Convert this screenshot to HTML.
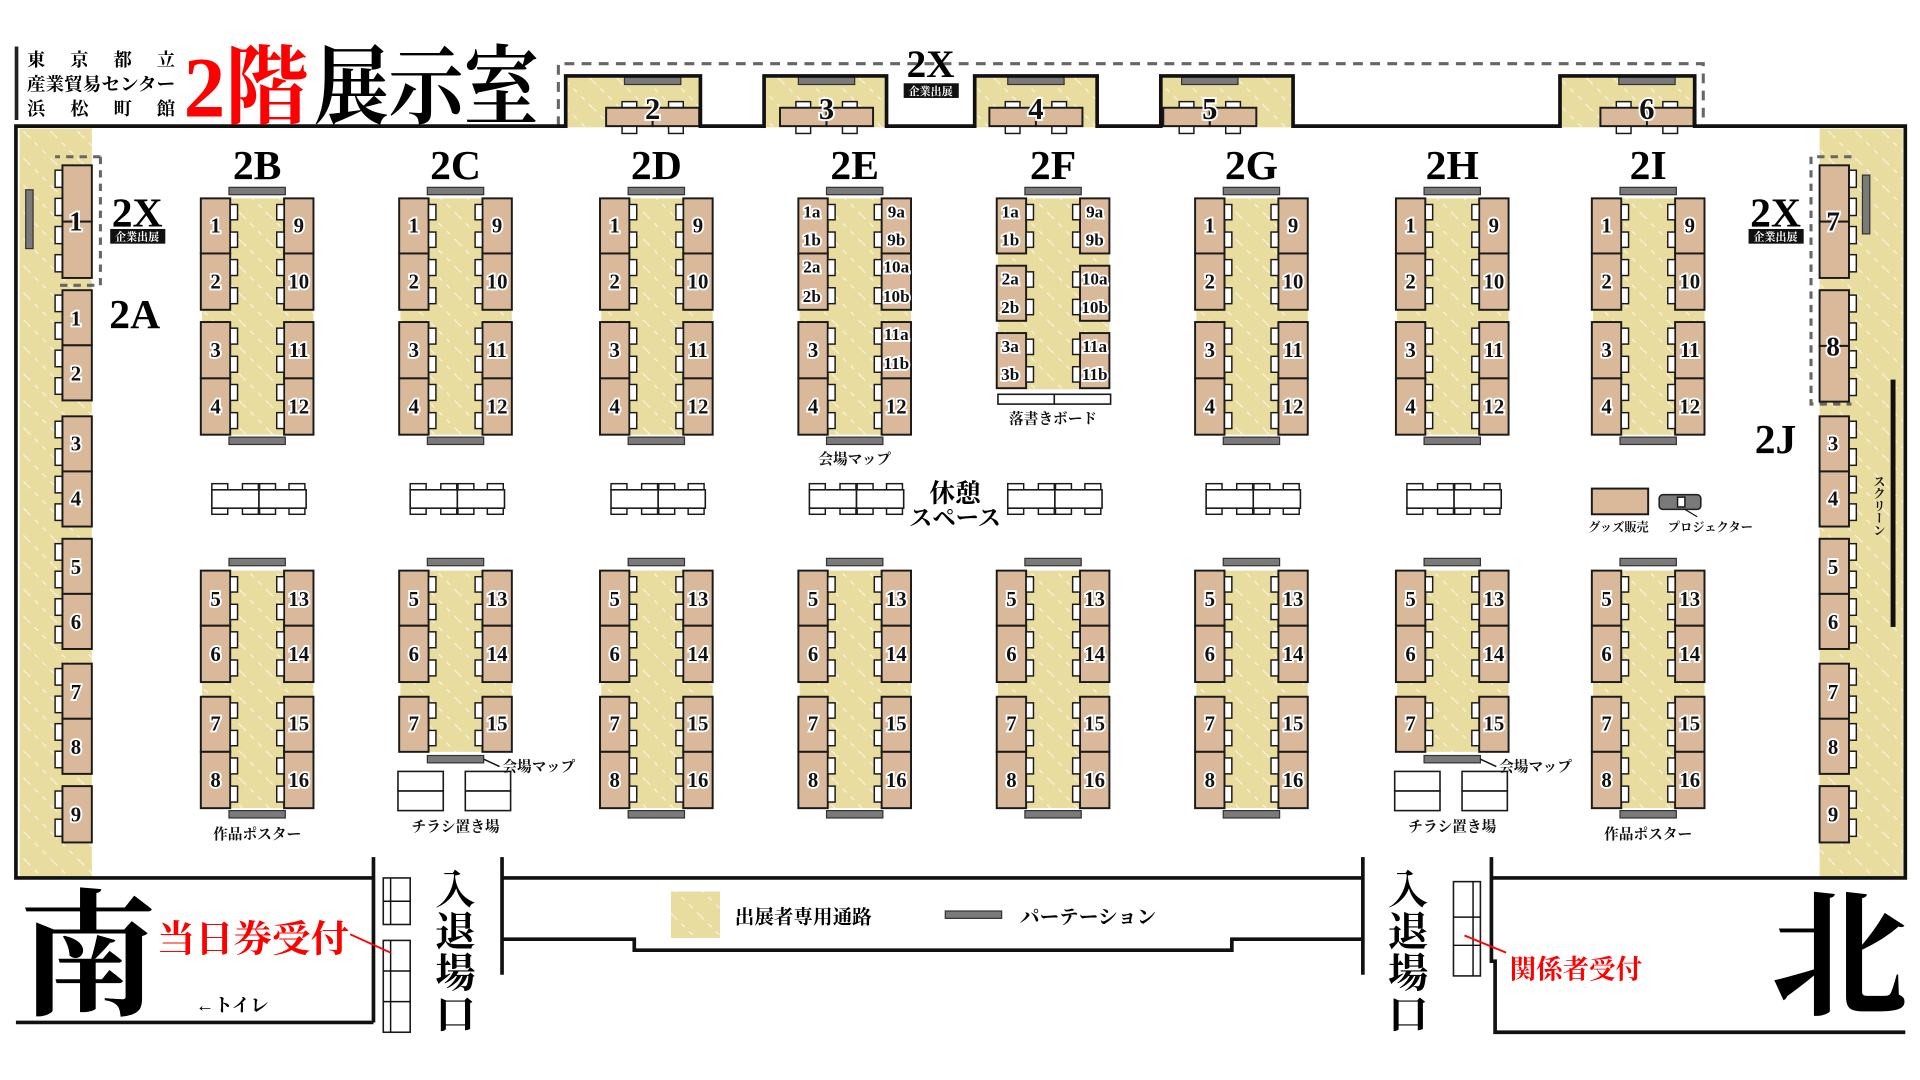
<!DOCTYPE html>
<html><head><meta charset="utf-8">
<style>
html,body{margin:0;padding:0;background:#fff;}
svg{display:block;}
text{font-family:"Liberation Serif","Noto Serif CJK JP",serif;font-weight:bold;}
.n{font-size:17px;text-anchor:middle;dominant-baseline:central;stroke:#fff;stroke-width:3;paint-order:stroke;fill:#111;}
.ns{font-size:14px;}
.big{font-size:34px;text-anchor:middle;fill:#000;}
.sm{font-size:12px;text-anchor:middle;fill:#111;}
.tag{font-size:9px;text-anchor:middle;fill:#fff;}
</style></head><body>
<svg id="s" width="1920" height="1080" viewBox="0 0 1568 882" preserveAspectRatio="none" xmlns="http://www.w3.org/2000/svg">
<defs>
<pattern id="h" patternUnits="userSpaceOnUse" width="22" height="22">
<rect width="22" height="22" fill="#e9dc9f"/>
<line x1="0" y1="0" x2="22" y2="22" stroke="#fff" stroke-opacity="0.7" stroke-width="1" stroke-dasharray="4 5"/>
</pattern>
</defs>
<g id="shapes"></g>

<!-- title -->
<rect x="12" y="38" width="3" height="60" fill="#222"/>
<text x="22" y="54" font-size="15" textLength="121" lengthAdjust="spacing">東京都立</text>
<text x="22" y="74" font-size="15" textLength="121" lengthAdjust="spacingAndGlyphs">産業貿易センター</text>
<text x="22" y="94" font-size="15" textLength="121" lengthAdjust="spacing">浜松町館</text>
<text x="150" y="95" font-size="70" fill="#f00" textLength="102" lengthAdjust="spacingAndGlyphs">2階</text>
<text x="256" y="95" font-size="70" fill="#000" textLength="184" lengthAdjust="spacingAndGlyphs">展示室</text>

<!-- 2X top -->
<text class="big" x="760" y="63" style="font-size:32px">2X</text>
<rect x="738" y="68" width="45" height="12" fill="#111"/>
<text class="tag" x="760" y="77.5">企業出展</text>
<text class="n" x="533" y="89" style="font-size:25px">2</text>
<text class="n" x="675" y="89" style="font-size:25px">3</text>
<text class="n" x="846" y="89" style="font-size:25px">4</text>
<text class="n" x="988" y="89" style="font-size:25px">5</text>
<text class="n" x="1345" y="89" style="font-size:25px">6</text>

<!-- side labels -->
<text class="big" x="112" y="185">2X</text>
<rect x="90" y="187" width="45" height="12" fill="#111"/>
<text class="tag" x="112" y="196.5">企業出展</text>
<text class="big" x="110" y="268">2A</text>
<text class="big" x="1450" y="185">2X</text>
<rect x="1428" y="187" width="45" height="12" fill="#111"/>
<text class="tag" x="1450" y="196.5">企業出展</text>
<text class="big" x="1450" y="370">2J</text>

<!-- 2A labels -->
<g>
<text class="n" x="62" y="181" style="font-size:22px">1</text>
<text class="n" x="62" y="260">1</text><text class="n" x="62" y="305">2</text>
<text class="n" x="62" y="362">3</text><text class="n" x="62" y="407">4</text>
<text class="n" x="62" y="463">5</text><text class="n" x="62" y="508">6</text>
<text class="n" x="62" y="565">7</text><text class="n" x="62" y="610">8</text>
<text class="n" x="62" y="665">9</text>
</g>
<!-- 2J labels -->
<g>
<text class="n" x="1497" y="181" style="font-size:22px">7</text>
<text class="n" x="1497" y="283" style="font-size:22px">8</text>
<text class="n" x="1497" y="362">3</text><text class="n" x="1497" y="407">4</text>
<text class="n" x="1497" y="463">5</text><text class="n" x="1497" y="508">6</text>
<text class="n" x="1497" y="565">7</text><text class="n" x="1497" y="610">8</text>
<text class="n" x="1497" y="665">9</text>
</g>
<text x="1534" y="388" font-size="10" writing-mode="tb" fill="#111">スクリーン</text>

<!-- column labels -->
<text class="big" x="210" y="146">2B</text>
<text class="big" x="372" y="146">2C</text>
<text class="big" x="536" y="146">2D</text>
<text class="big" x="698" y="146">2E</text>
<text class="big" x="860" y="146">2F</text>
<text class="big" x="1022" y="146">2G</text>
<text class="big" x="1186" y="146">2H</text>
<text class="big" x="1346" y="146">2I</text>

<g transform="translate(210,0)"><text class="n" x="-34" y="184">1</text><text class="n" x="-34" y="230">2</text><text class="n" x="-34" y="286">3</text><text class="n" x="-34" y="332">4</text><text class="n" x="34" y="184">9</text><text class="n" x="34" y="230">10</text><text class="n" x="34" y="286">11</text><text class="n" x="34" y="332">12</text>
<text class="n" x="-34" y="489">5</text><text class="n" x="-34" y="534">6</text><text class="n" x="-34" y="591">7</text><text class="n" x="-34" y="637">8</text><text class="n" x="34" y="489">13</text><text class="n" x="34" y="534">14</text><text class="n" x="34" y="591">15</text><text class="n" x="34" y="637">16</text></g>
<g transform="translate(372,0)"><text class="n" x="-34" y="184">1</text><text class="n" x="-34" y="230">2</text><text class="n" x="-34" y="286">3</text><text class="n" x="-34" y="332">4</text><text class="n" x="34" y="184">9</text><text class="n" x="34" y="230">10</text><text class="n" x="34" y="286">11</text><text class="n" x="34" y="332">12</text>
<text class="n" x="-34" y="489">5</text><text class="n" x="-34" y="534">6</text><text class="n" x="-34" y="591">7</text><text class="n" x="34" y="489">13</text><text class="n" x="34" y="534">14</text><text class="n" x="34" y="591">15</text></g>
<g transform="translate(536,0)"><text class="n" x="-34" y="184">1</text><text class="n" x="-34" y="230">2</text><text class="n" x="-34" y="286">3</text><text class="n" x="-34" y="332">4</text><text class="n" x="34" y="184">9</text><text class="n" x="34" y="230">10</text><text class="n" x="34" y="286">11</text><text class="n" x="34" y="332">12</text>
<text class="n" x="-34" y="489">5</text><text class="n" x="-34" y="534">6</text><text class="n" x="-34" y="591">7</text><text class="n" x="-34" y="637">8</text><text class="n" x="34" y="489">13</text><text class="n" x="34" y="534">14</text><text class="n" x="34" y="591">15</text><text class="n" x="34" y="637">16</text></g>
<g transform="translate(698,0)"><text class="n ns" x="-35" y="173">1a</text><text class="n ns" x="-35" y="196">1b</text><text class="n ns" x="-35" y="218">2a</text><text class="n ns" x="-35" y="242">2b</text><text class="n" x="-34" y="286">3</text><text class="n" x="-34" y="332">4</text><text class="n ns" x="34" y="173">9a</text><text class="n ns" x="34" y="196">9b</text><text class="n ns" x="34" y="218">10a</text><text class="n ns" x="34" y="242">10b</text><text class="n ns" x="34" y="273">11a</text><text class="n ns" x="34" y="297">11b</text><text class="n" x="34" y="332">12</text>
<text class="n" x="-34" y="489">5</text><text class="n" x="-34" y="534">6</text><text class="n" x="-34" y="591">7</text><text class="n" x="-34" y="637">8</text><text class="n" x="34" y="489">13</text><text class="n" x="34" y="534">14</text><text class="n" x="34" y="591">15</text><text class="n" x="34" y="637">16</text></g>
<g transform="translate(860,0)"><text class="n ns" x="-35" y="173">1a</text><text class="n ns" x="-35" y="196">1b</text><text class="n ns" x="-35" y="228">2a</text><text class="n ns" x="-35" y="251">2b</text><text class="n ns" x="-35" y="283">3a</text><text class="n ns" x="-35" y="306">3b</text><text class="n ns" x="34" y="173">9a</text><text class="n ns" x="34" y="196">9b</text><text class="n ns" x="34" y="228">10a</text><text class="n ns" x="34" y="251">10b</text><text class="n ns" x="34" y="283">11a</text><text class="n ns" x="34" y="306">11b</text>
<text class="n" x="-34" y="489">5</text><text class="n" x="-34" y="534">6</text><text class="n" x="-34" y="591">7</text><text class="n" x="-34" y="637">8</text><text class="n" x="34" y="489">13</text><text class="n" x="34" y="534">14</text><text class="n" x="34" y="591">15</text><text class="n" x="34" y="637">16</text></g>
<g transform="translate(1022,0)"><text class="n" x="-34" y="184">1</text><text class="n" x="-34" y="230">2</text><text class="n" x="-34" y="286">3</text><text class="n" x="-34" y="332">4</text><text class="n" x="34" y="184">9</text><text class="n" x="34" y="230">10</text><text class="n" x="34" y="286">11</text><text class="n" x="34" y="332">12</text>
<text class="n" x="-34" y="489">5</text><text class="n" x="-34" y="534">6</text><text class="n" x="-34" y="591">7</text><text class="n" x="-34" y="637">8</text><text class="n" x="34" y="489">13</text><text class="n" x="34" y="534">14</text><text class="n" x="34" y="591">15</text><text class="n" x="34" y="637">16</text></g>
<g transform="translate(1186,0)"><text class="n" x="-34" y="184">1</text><text class="n" x="-34" y="230">2</text><text class="n" x="-34" y="286">3</text><text class="n" x="-34" y="332">4</text><text class="n" x="34" y="184">9</text><text class="n" x="34" y="230">10</text><text class="n" x="34" y="286">11</text><text class="n" x="34" y="332">12</text>
<text class="n" x="-34" y="489">5</text><text class="n" x="-34" y="534">6</text><text class="n" x="-34" y="591">7</text><text class="n" x="34" y="489">13</text><text class="n" x="34" y="534">14</text><text class="n" x="34" y="591">15</text></g>
<g transform="translate(1346,0)"><text class="n" x="-34" y="184">1</text><text class="n" x="-34" y="230">2</text><text class="n" x="-34" y="286">3</text><text class="n" x="-34" y="332">4</text><text class="n" x="34" y="184">9</text><text class="n" x="34" y="230">10</text><text class="n" x="34" y="286">11</text><text class="n" x="34" y="332">12</text>
<text class="n" x="-34" y="489">5</text><text class="n" x="-34" y="534">6</text><text class="n" x="-34" y="591">7</text><text class="n" x="-34" y="637">8</text><text class="n" x="34" y="489">13</text><text class="n" x="34" y="534">14</text><text class="n" x="34" y="591">15</text><text class="n" x="34" y="637">16</text></g>

<!-- small labels -->
<text class="sm" x="698" y="379">会場マップ</text>
<text class="sm" x="860" y="346">落書きボード</text>
<text class="sm" x="210" y="685">作品ポスター</text>
<text class="sm" x="1346" y="685">作品ポスター</text>
<text class="sm" x="372" y="679">チラシ置き場</text>
<text class="sm" x="1186" y="679">チラシ置き場</text>
<text class="sm" x="440" y="630">会場マップ</text>
<text class="sm" x="1254" y="630">会場マップ</text>
<text x="1297" y="434" font-size="10" fill="#111">グッズ販売</text>
<text x="1362" y="434" font-size="10" fill="#111">プロジェクター</text>
<text x="780" y="410" font-size="21" text-anchor="middle">休憩</text>
<text x="780" y="429" font-size="19" text-anchor="middle">スペース</text>

<!-- legend -->
<text x="600" y="754" font-size="16">出展者専用通路</text>
<text x="833" y="754" font-size="16">パーテーション</text>

<!-- bottom -->
<text x="16" y="820" font-size="112">南</text>
<text x="1446" y="820" font-size="112">北</text>
<text x="128" y="777" font-size="30" fill="#f00" textLength="157" lengthAdjust="spacingAndGlyphs">当日券受付</text>
<text x="1233" y="799" font-size="22" fill="#f00" textLength="108" lengthAdjust="spacingAndGlyphs">関係者受付</text>
<text x="160" y="826" font-size="15">←トイレ</text>
<g font-size="33" text-anchor="middle">
<text x="372" y="738">入</text><text x="372" y="772">退</text><text x="372" y="806">場</text><text x="372" y="840">口</text>
<text x="1150" y="738">入</text><text x="1150" y="772">退</text><text x="1150" y="806">場</text><text x="1150" y="840">口</text>
</g>
</svg>
<script>
(function(){
var NS="http://www.w3.org/2000/svg",g=document.getElementById("shapes");
function el(t,a){var e=document.createElementNS(NS,t);for(var k in a)e.setAttribute(k,a[k]);g.appendChild(e);return e;}
function Y(x,y,w,h){el("rect",{x:x,y:y,width:w,height:h,fill:"url(#h)"});}
function T(x,y,w,h){el("rect",{x:x,y:y,width:w,height:h,fill:"#d9b999",stroke:"#1a1a1a","stroke-width":1.6});}
function C(x,y,w,h){el("rect",{x:x,y:y,width:w,height:h,fill:"#fff",stroke:"#1a1a1a","stroke-width":1.2});}
function B(x,y,w,h){el("rect",{x:x,y:y,width:w,height:h,fill:"#7a7a7a",stroke:"#333","stroke-width":1});}
function W(x,y,w,h){el("rect",{x:x,y:y,width:w,height:h,fill:"#fff",stroke:"#1a1a1a","stroke-width":1.3});}
function L(d,w,c,dash){var a={d:d,fill:"none",stroke:c||"#111","stroke-width":w||3};if(dash)a["stroke-dasharray"]=dash;el("path",a);}

Y(16,105,59,612);Y(1486,105,68,612);
var bumps=[[462,572,533],[624,724,675],[796,896,846],[948,1056,988],[1274,1384,1345]];
bumps.forEach(function(b){Y(b[0],62,b[1]-b[0],42);});
L("M456,103 L456,52 L1391,52 L1391,103",2.5,"#666","8 6");
L("M82,128 L45,128 M82,128 L82,233 L45,233",2.5,"#666","6 5");
L("M1512,128 L1479,128 L1479,330 L1512,330",2.5,"#666","6 5");

bumps.forEach(function(b){var c=b[2];
 B(c-23,63,46,6);
 C(c-25,83,12,6);C(c+13,83,12,6);C(c-25,103,12,6);C(c+13,103,12,6);
 T(c-38,88,38,15);T(c,88,38,15);
});

B(21,155,6,48);B(1521,143,6,48);
el("rect",{x:1544,y:310,width:4,height:202,fill:"#111"});

function side(tx,cx,rows){rows.forEach(function(r){var h=r[1]-r[0];
 var k=h>60?4:2;
 for(var i=0;i<k;i++){C(cx,r[0]+4+i*(h/k),6,h/k-9);}
 if(h>60){T(tx,r[0],24,h/2);T(tx,r[0]+h/2,24,h/2);}else T(tx,r[0],24,h);
});}
side(51,45,[[135,227],[237,282],[282,327],[340,385],[385,430],[440,485],[485,530],[542,587],[587,632],[642,688]]);
side(1486,1510,[[135,227],[237,328],[340,385],[385,430],[440,485],[485,530],[542,587],[587,632],[642,688]]);

function chairs(x,top,h){for(var i=0;i<2;i++)C(x,top+5+i*(h/2),6,h/2-10);}
function block(c,yt,yb,L1,R1){Y(c-45,yt,91,yb-yt);
 L1.forEach(function(r){T(c-46,r[0],24,r[1]-r[0]);chairs(c-22,r[0],r[1]-r[0]);});
 R1.forEach(function(r){T(c+22,r[0],24,r[1]-r[0]);chairs(c+16,r[0],r[1]-r[0]);});}
var up=[[162,207],[207,253],[263,309],[309,355]];
var lo=[[466,511],[511,557],[569,614],[614,660]];
var lo3=[[466,511],[511,557],[569,614]];
var cols=[210,372,536,698,860,1022,1186,1346];
cols.forEach(function(c,i){
 B(c-23,153,46,6);
 if(i==4){var f=[[162,207],[217,262],[272,317]];block(c,162,318,f,f);
   W(c-45,322,46,8);W(c+1,322,46,8);}
 else{block(c,162,355,up,up);B(c-23,357,46,6);}
 B(c-23,456,46,6);
 if(i==1||i==6){block(c,466,614,lo3,lo3);B(c-23,617,46,6);
   L("M"+(c+23)+",620 L"+(c+36)+",626",1.2);
   W(c-47,630,37,16);W(c-47,646,37,16);W(c+8,630,37,16);W(c+8,646,37,16);}
 else{block(c,466,660,lo,lo);B(c-23,662,46,6);}
 if(i<7){var x0=c-37;
  [0,25,39,63].forEach(function(d){C(x0+d,395,13,5);C(x0+d,415,13,5);});
  W(x0,400,38.5,15);W(x0+38.5,400,38.5,15);}
});
T(1300,399,46,21);
el("rect",{x:1355,y:404,width:34,height:12,rx:3,fill:"#7a7a7a",stroke:"#222","stroke-width":1.3});
C(1370,406,6,8);L("M1376,416 L1386,422",1);

L("M305,717 L13,717 L13,103 L462,103 L462,62 L572,62 L572,103 L624,103 L624,62 L724,62 L724,103 L796,103 L796,62 L896,62 L896,103 L948,103 L948,62 L1056,62 L1056,103 L1274,103 L1274,62 L1384,62 L1384,103 L1556,103 L1556,717 L1218,717",3);
L("M13,835 L305,835",3);
L("M305,700 L305,835",3);
L("M410,700 L410,796",3);L("M1113,700 L1113,796",3);
L("M1218,700 L1218,785 L1221,785 L1221,843 L1556,843",3);
L("M410,717 L1113,717",3);
L("M410,767 L518,767 L518,776 L1006,776 L1006,767 L1113,767",3);
function ent(x,y1,y2,splits,side){W(x,y1,22,y2-y1);var cx=side<0?x+6:x+16;L("M"+cx+","+y1+" L"+cx+","+y2,1.2);
 splits.forEach(function(s){L("M"+x+","+s+" L"+(x+22)+","+s,1.2);});}
ent(313,717,755,[736],-1);ent(313,768,843,[793,818],-1);
ent(1187,720,797,[749,772],1);
L("M286,763 L319,778",1.5,"#f00");L("M1196,764 L1230,778",1.5,"#f00");
Y(548,728,40,38);B(772,744,46,6);
})();
</script>
</body></html>
